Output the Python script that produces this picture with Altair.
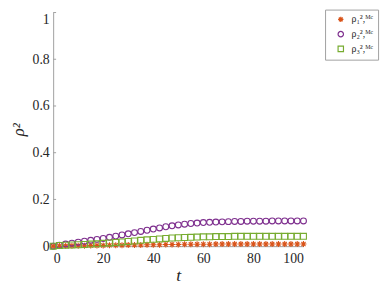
import altair as alt
import pandas as pd

t = [i * 2.5 for i in range(41)]
rho1 = [0.000, 0.001, 0.001, 0.002, 0.002, 0.002, 0.003, 0.003, 0.003, 0.004,
        0.004, 0.004, 0.005, 0.005, 0.005, 0.006, 0.006, 0.006, 0.007, 0.007,
        0.007, 0.008, 0.008, 0.008, 0.008, 0.008, 0.009, 0.009, 0.009, 0.009,
        0.009, 0.009, 0.009, 0.009, 0.009, 0.009, 0.009, 0.009, 0.009, 0.009, 0.009]
rho2 = [0.000, 0.004, 0.009, 0.013, 0.017, 0.021, 0.025, 0.029, 0.033, 0.038,
        0.043, 0.048, 0.053, 0.058, 0.063, 0.068, 0.073, 0.078, 0.083, 0.087,
        0.091, 0.094, 0.097, 0.099, 0.101, 0.102, 0.103, 0.104, 0.105, 0.106,
        0.106, 0.107, 0.107, 0.107, 0.107, 0.108, 0.108, 0.108, 0.108, 0.108, 0.108]
rho3 = [0.000, 0.003, 0.004, 0.005, 0.006, 0.007, 0.009, 0.010, 0.012, 0.014,
        0.016, 0.018, 0.020, 0.022, 0.025, 0.027, 0.029, 0.031, 0.033, 0.035,
        0.036, 0.037, 0.038, 0.039, 0.040, 0.040, 0.041, 0.041, 0.041, 0.042,
        0.042, 0.042, 0.042, 0.042, 0.042, 0.042, 0.042, 0.042, 0.042, 0.042, 0.042]

series_names = ["ρ₁²,ᴹᶜ", "ρ₂²,ᴹᶜ", "ρ₃²,ᴹᶜ"]
series_colors = ["#D95319", "#7E2F8E", "#77AC30"]
asterisk = "M-1,0L1,0M0,-1L0,1M-0.7,-0.7L0.7,0.7M-0.7,0.7L0.7,-0.7"
series_shapes = [asterisk, "circle", "square"]

x_ticks = [0, 20, 40, 60, 80, 100]
y_ticks = [0, 0.2, 0.4, 0.6, 0.8, 1]

rows = []
for name, vals in zip(series_names, [rho1, rho2, rho3]):
    for tt, v in zip(t, vals):
        rows.append({"t": tt, "v": v, "s": name})
df = pd.DataFrame(rows)

font = "Liberation Serif"
xs = alt.Scale(domain=[0, 100], nice=False)
ys = alt.Scale(domain=[0, 1], nice=False)

pts = alt.Chart(df).mark_point(filled=False, strokeWidth=1.1, size=36, opacity=1).encode(
    x=alt.X("t:Q", scale=xs, title="t",
            axis=alt.Axis(values=x_ticks, ticks=False, grid=False, labelPadding=6,
                          titleFontStyle="italic", titleFontSize=18, titlePadding=1)),
    y=alt.Y("v:Q", scale=ys, title="ρ²",
            axis=alt.Axis(values=y_ticks, format="~g", ticks=False, grid=False, labelPadding=4,
                          labelBaseline=alt.expr("datum.value == 1 ? 'top' : 'middle'"),
                          titleFontStyle="italic", titleFontSize=17, titlePadding=5)),
    color=alt.Color("s:N", scale=alt.Scale(domain=series_names, range=series_colors),
                    legend=alt.Legend(title=None, orient="none", legendX=277, legendY=-3,
                                      strokeColor="#a0a0a0", fillColor="white", padding=5,
                                      labelFont=font, labelFontSize=10, symbolSize=30,
                                      symbolOffset=6, labelOffset=6,
                                      symbolStrokeWidth=1.2, rowPadding=3, labelColor="#262626")),
    shape=alt.Shape("s:N", scale=alt.Scale(domain=series_names, range=series_shapes), legend=None),
)

ytk = alt.Chart(pd.DataFrame({"y": y_ticks})).mark_rule(color="#a0a0a0").encode(
    y=alt.Y("y:Q", scale=ys), x=alt.value(0), x2=alt.value(3))
xtk = alt.Chart(pd.DataFrame({"x": x_ticks})).mark_rule(color="#a0a0a0").encode(
    x=alt.X("x:Q", scale=xs), y=alt.value(238), y2=alt.value(235))

chart = alt.layer(ytk, xtk, pts).properties(
    width=255, height=238,
    background="white",
    autosize=alt.AutoSizeParams(type="none"),
    padding={"left": 46, "top": 2, "right": 80, "bottom": 40},
).configure_view(stroke=None).configure_axis(
    domainColor="#a0a0a0", labelFont=font, titleFont=font, labelFontSize=14,
    labelColor="#262626", titleColor="#262626", titleFontWeight="normal",
).configure_axisY(titleAngle=-90)

chart.save("out.html", embed_options={"renderer": "svg", "actions": False})
